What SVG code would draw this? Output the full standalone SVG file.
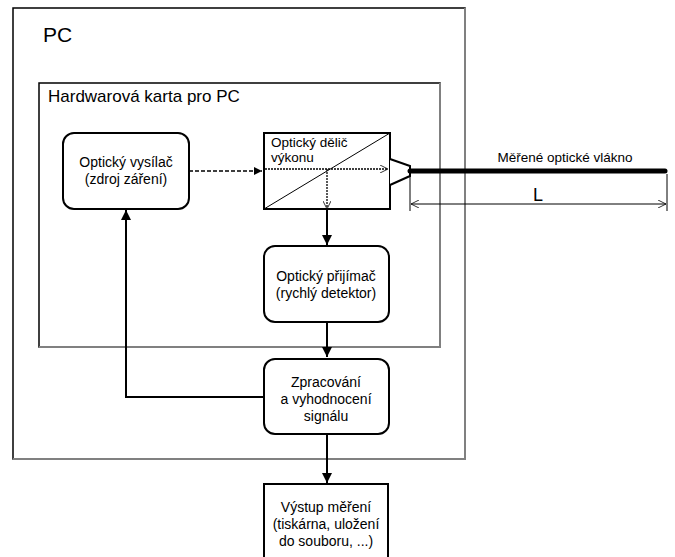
<svg xmlns="http://www.w3.org/2000/svg" width="675" height="557" viewBox="0 0 675 557">
<defs>
<marker id="ah" viewBox="0 0 10 10" refX="10" refY="5" markerWidth="10" markerHeight="10" markerUnits="userSpaceOnUse" orient="auto">
<path d="M0,0 L10,5 L0,10 z" fill="#000"/>
</marker>
<marker id="ahs" viewBox="0 0 10 10" refX="10" refY="5" markerWidth="8" markerHeight="8" markerUnits="userSpaceOnUse" orient="auto">
<path d="M0,0 L10,5 L0,10 z" fill="#000"/>
</marker>
<marker id="open" viewBox="0 0 10 10" refX="10" refY="5" markerWidth="10" markerHeight="8" markerUnits="userSpaceOnUse" orient="auto">
<path d="M0,0 L10,5 L0,10" fill="none" stroke="#000" stroke-width="1"/>
</marker>
<marker id="openS" viewBox="0 0 10 10" refX="0" refY="5" markerWidth="10" markerHeight="8" markerUnits="userSpaceOnUse" orient="auto">
<path d="M10,0 L0,5 L10,10" fill="none" stroke="#000" stroke-width="1"/>
</marker>
</defs>
<style>
text{font-family:"Liberation Sans",Arial,sans-serif;fill:#000}
.t{font-size:14px;text-anchor:middle}
.box{fill:#fff;stroke:#000;stroke-width:2}
.frame{fill:none;stroke:#000;stroke-width:1.5}
.shade{stroke:#808080;stroke-width:2;fill:none}
.conn{stroke:#000;stroke-width:2;fill:none}
</style>
<rect width="675" height="557" fill="#fff"/>
<g id="pc">
<rect x="13" y="8" width="452" height="451" class="frame"/>
<path d="M465,8 V459 H13" class="shade"/>
<text x="43" y="42" style="font-size:21px">PC</text>
</g>
<g id="card">
<rect x="39" y="83" width="401" height="264" class="frame"/>
<path d="M440,83 V347 H39" class="shade"/>
<text x="48" y="102" style="font-size:17px">Hardwarová karta pro PC</text>
</g>
<g id="connectors">
<path d="M189,171 H262" stroke="#000" stroke-width="1.3" stroke-dasharray="4,2" fill="none" marker-end="url(#ahs)"/>
<path d="M327,209 V245" class="conn" marker-end="url(#ah)"/>
<path d="M327,322 V357" class="conn" marker-end="url(#ah)"/>
<path d="M327,434 V483" class="conn" marker-end="url(#ah)"/>
<path d="M264,397 H126 V210" class="conn" marker-end="url(#ah)"/>
</g>
<g id="delic">
<rect x="264" y="133" width="126" height="76" class="box"/>
<path d="M264,209 L390,133" stroke="#000" stroke-width="1"/>
<text x="271" y="147" style="font-size:13.5px">Optický dělič</text>
<text x="271" y="162" style="font-size:13.5px">výkonu</text>
<path d="M265,169 H388" stroke="#000" stroke-width="1.3" stroke-dasharray="2,1" fill="none" marker-end="url(#open)"/>
<path d="M327,169 V209" stroke="#000" stroke-width="1.3" stroke-dasharray="2,1" fill="none" marker-end="url(#open)"/>
</g>
<g id="vysilac">
<rect x="63" y="133" width="126" height="76" rx="11" class="box"/>
<text x="126" y="167" class="t">Optický vysílač</text>
<text x="126" y="184" class="t">(zdroj záření)</text>
</g>
<g id="vlakno">
<path d="M390,159 L410,166 L410,176 L390,185" fill="#fff" stroke="#000" stroke-width="2"/>
<path d="M410,171 H665" stroke="#000" stroke-width="5" stroke-linecap="round"/>
<path d="M410,176 V211 M667,174 V211" stroke="#000" stroke-width="1"/>
<path d="M411,204 H666" stroke="#000" stroke-width="1" marker-start="url(#openS)" marker-end="url(#open)"/>
<text x="565" y="162" style="font-size:13.5px;text-anchor:middle">Měřené optické vlákno</text>
<text x="538" y="201" style="font-size:18px;text-anchor:middle">L</text>
</g>
<g id="prijimac">
<rect x="264" y="246" width="125" height="76" rx="11" class="box"/>
<text x="326" y="281" class="t">Optický přijímač</text>
<text x="326" y="298" class="t">(rychlý detektor)</text>
</g>
<g id="zpracovani">
<rect x="264" y="359" width="125" height="75" rx="11" class="box"/>
<text x="326" y="387" class="t">Zpracování</text>
<text x="326" y="404" class="t">a vyhodnocení</text>
<text x="326" y="421" class="t">signálu</text>
</g>
<g id="vystup">
<rect x="264" y="484" width="124" height="90" class="box"/>
<text x="326" y="512" class="t">Výstup měření</text>
<text x="326" y="529" class="t">(tiskárna, uložení</text>
<text x="326" y="546" class="t">do souboru, ...)</text>
</g>
</svg>
